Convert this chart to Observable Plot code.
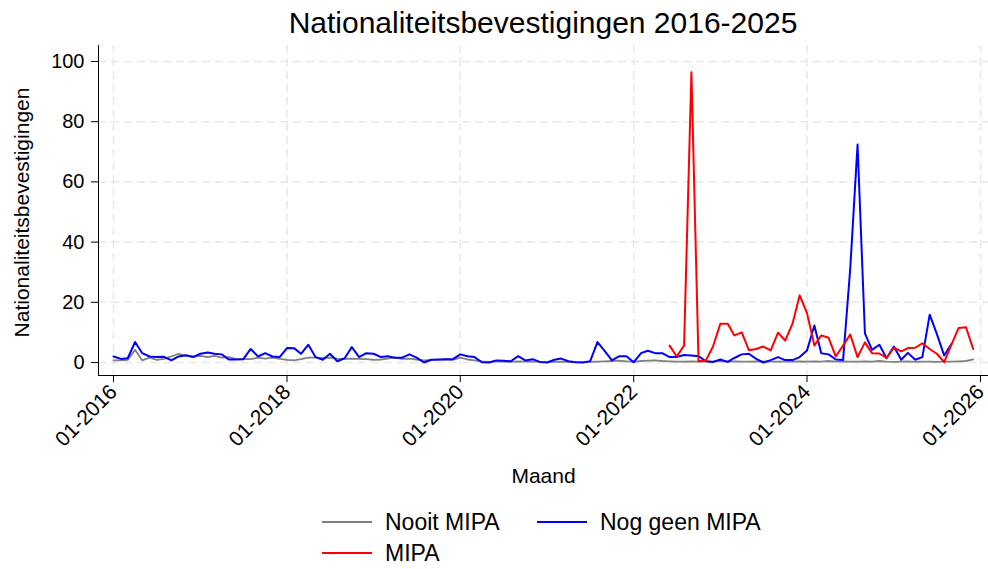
<!DOCTYPE html>
<html><head><meta charset="utf-8">
<script src="https://cdn.jsdelivr.net/npm/d3@7"></script>
<script src="https://cdn.jsdelivr.net/npm/@observablehq/plot@0.6"></script>
<style>
body{margin:0;background:#fff;font-family:"Liberation Sans",Arial,sans-serif;color:#000}
#wrap{position:relative;width:988px;height:569px;overflow:hidden;background:#fff}
#title{position:absolute;left:98px;width:890px;top:0;height:45px;line-height:45px;text-align:center;font-size:30px}
#chart{position:absolute;left:0;top:45px}
#legend{position:absolute;left:0;top:500px;width:988px;height:69px}
.item{position:absolute;display:flex;align-items:center;font-size:23px;height:30px;white-space:nowrap}
.sw{width:50px;height:0;border-top:2px solid;margin-right:13px}
</style></head>
<body>
<div id="wrap">
  <div id="title"></div>
  <div id="chart"></div>
  <div id="legend"></div>
</div>
<script>
const titleText = "Nationaliteitsbevestigingen 2016-2025";
const yLabel = "Nationaliteitsbevestigingen";
const xLabel = "Maand";
const seriesNames = ["Nooit MIPA", "Nog geen MIPA", "MIPA"];
const seriesColors = ["#808080", "#0000ff", "#ff0000"];
const xTickLabels = ["01-2016","01-2018","01-2020","01-2022","01-2024","01-2026"];
const yTicks = [0, 20, 40, 60, 80, 100];

// monthly series; first month of each series
const nooitStart = "01-2016";
const nooitMipa = [
  0.7,0.7,0.9,4.2,0.7,1.6,0.9,1.2,2.0,2.9,2.2,2.0,
  2.2,1.8,2.2,1.6,1.8,1.1,1.2,1.1,1.6,1.3,1.6,1.2,
  0.9,0.7,1.1,1.6,1.6,1.5,1.6,1.3,1.2,1.3,1.2,1.1,
  0.9,1.0,1.3,1.6,1.2,1.3,1.0,0.7,0.9,0.9,1.0,0.9,
  1.6,1.0,0.7,0.4,0.2,0.3,0.3,0.2,0.4,0.3,0.4,0.2,
  0.1,0.2,0.3,0.2,0.1,0.1,0.2,0.3,0.4,0.5,0.6,0.4,
  0.2,0.5,0.6,0.7,0.5,0.4,0.3,0.3,0.4,0.3,0.4,0.3,
  0.5,0.3,0.4,0.3,0.3,0.4,0.3,0.3,0.3,0.4,0.3,0.4,
  0.3,0.4,0.3,0.5,0.3,0.4,0.3,0.3,0.4,0.3,0.5,0.3,
  0.2,0.3,0.4,0.2,0.3,0.3,0.2,0.3,0.3,0.4,0.5,1.0
];
const nogGeenStart = "01-2016";
const nogGeenMipa = [
  2.0,1.2,1.4,6.8,3.1,2.0,1.8,1.9,0.7,2.0,2.4,1.8,
  2.9,3.3,2.9,2.7,1.0,1.0,1.1,4.5,2.0,3.1,2.0,1.8,
  4.8,4.7,2.9,5.9,1.8,0.9,2.9,0.4,1.4,5.1,1.8,3.1,
  2.9,1.8,2.1,1.6,1.6,2.7,1.6,0.0,0.9,1.0,1.1,1.1,
  2.7,2.1,1.8,0.1,0.0,0.7,0.6,0.4,2.1,0.7,1.1,0.2,
  0.0,0.9,1.3,0.4,0.1,0.0,0.4,6.8,3.8,0.7,2.1,2.1,
  0.1,3.1,3.9,3.1,3.1,1.8,1.8,2.5,2.3,2.1,0.4,0.2,
  1.0,0.2,1.5,2.7,2.9,1.2,0.0,0.8,1.8,0.8,0.8,1.8,
  4.0,12.3,3.1,2.7,1.0,0.8,31.0,72.4,9.7,4.2,5.9,1.4,
  5.3,0.9,3.2,0.9,1.8,15.9,9.5,2.3,6.2
];
const mipaStart = "06-2022";
const mipa = [
  5.6,2.0,5.6,96.4,0.4,0.7,5.3,12.9,12.9,9.0,10.0,4.1,
  4.5,5.3,4.0,9.9,7.3,12.9,22.3,16.4,5.6,9.0,8.2,2.0,
  5.6,9.3,1.8,6.7,3.1,3.0,1.5,4.9,3.7,4.8,4.9,6.4,
  4.5,2.9,0.1,6.0,11.5,11.7,4.5
];

const parseM = d3.utcParse("%m-%Y");
function toRows(start, values, name) {
  const s = parseM(start);
  return values.map((v, i) => ({date: d3.utcMonth.offset(s, i), value: v, series: name}));
}
const rows = [
  toRows(nooitStart, nooitMipa, seriesNames[0]),
  toRows(nogGeenStart, nogGeenMipa, seriesNames[1]),
  toRows(mipaStart, mipa, seriesNames[2])
];
const xTicks = xTickLabels.map(parseM);

document.getElementById("title").textContent = titleText;

const gridStyle = {stroke: "#e8e8e8", strokeOpacity: 1, strokeWidth: 1.5, strokeDasharray: "8,5"};
const fontFam = "'Liberation Sans', Arial, sans-serif";

const chart = Plot.plot({
  width: 988,
  height: 455,
  marginLeft: 98,
  marginRight: 0,
  marginTop: 0,
  marginBottom: 125,
  style: {fontFamily: fontFam, color: "#000", background: "#fff", overflow: "visible"},
  x: {type: "utc", domain: [xTicks[0], xTicks[xTicks.length - 1]], range: [113, 980]},
  y: {domain: [0, 100], range: [317, 16]},
  marks: [
    Plot.gridY(yTicks, gridStyle),
    Plot.gridX(xTicks, gridStyle),
    Plot.line(rows[0], {x: "date", y: "value", stroke: seriesColors[0], strokeWidth: 1.8}),
    Plot.line(rows[1], {x: "date", y: "value", stroke: seriesColors[1], strokeWidth: 2}),
    Plot.line(rows[2], {x: "date", y: "value", stroke: seriesColors[2], strokeWidth: 2}),
    Plot.frame({anchor: "left", stroke: "#000", strokeWidth: 1}),
    Plot.frame({anchor: "bottom", stroke: "#000", strokeWidth: 1}),
    Plot.axisY(yTicks, {tickSize: 7, tickPadding: 7, fontSize: 20, label: null, stroke: "#000"}),
    Plot.axisX(xTicks, {tickFormat: d3.utcFormat("%m-%Y"), tickRotate: -45, tickSize: 7, tickPadding: 6, fontSize: 21, label: null, stroke: "#000"}),
    Plot.text([yLabel], {text: d => d, frameAnchor: "left", dx: -76, dy: 2, rotate: -90, textAnchor: "middle", lineAnchor: "middle", fontSize: 21, fill: "#000"}),
    Plot.text([xLabel], {text: d => d, frameAnchor: "bottom", dy: 101, textAnchor: "middle", lineAnchor: "middle", fontSize: 21, fill: "#000"})
  ]
});
document.getElementById("chart").appendChild(chart);

// legend
const legendPos = [{left: 322, top: 7}, {left: 537, top: 7}, {left: 322, top: 38}];
const legend = document.getElementById("legend");
seriesNames.forEach((name, i) => {
  const it = document.createElement("div");
  it.className = "item";
  it.style.left = legendPos[i].left + "px";
  it.style.top = legendPos[i].top + "px";
  const sw = document.createElement("div");
  sw.className = "sw";
  sw.style.borderTopColor = seriesColors[i];
  const tx = document.createElement("span");
  tx.textContent = name;
  it.appendChild(sw); it.appendChild(tx);
  legend.appendChild(it);
});
</script>
</body></html>
